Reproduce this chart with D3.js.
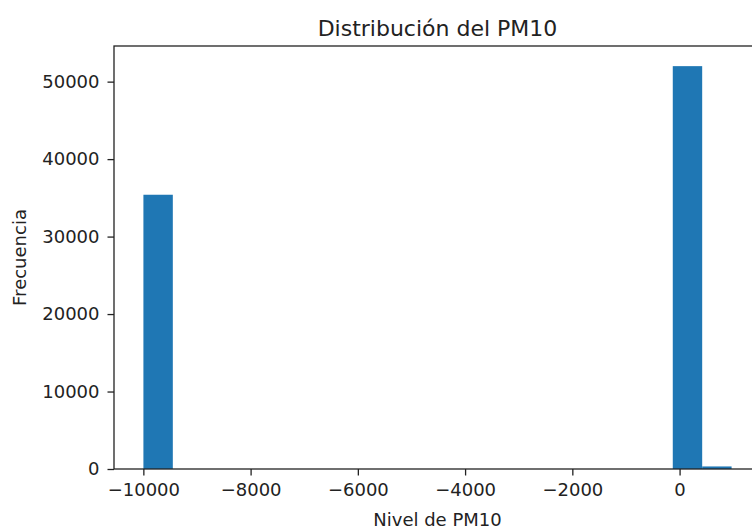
<!DOCTYPE html>
<html>
<head>
<meta charset="utf-8">
<script src="https://cdn.jsdelivr.net/npm/d3@7"></script>
<style>
  html, body { margin: 0; padding: 0; background: #ffffff; }
  svg { display: block; font-family: "DejaVu Sans", sans-serif; }
</style>
</head>
<body>
<svg id="chart" width="752" height="532"></svg>
<script>
// Histogram of PM10 readings (20 equal-width bins between the min and max reading)
const pm10Min = -9999;
const pm10Max = 970;
const binCounts = [35400, 0, 0, 0, 0, 0, 0, 0, 0, 0, 0, 0, 0, 0, 0, 0, 0, 0, 52000, 330];
const xTicks = [-10000, -8000, -6000, -4000, -2000, 0];
const yTicks = [0, 10000, 20000, 30000, 40000, 50000];
const titleText = "Distribución del PM10";
const xLabelText = "Nivel de PM10";
const yLabelText = "Frecuencia";

const nBins = binCounts.length;
const binWidth = (pm10Max - pm10Min) / nBins;
const bins = binCounts.map((c, i) => ({
  x0: pm10Min + i * binWidth,
  x1: pm10Min + (i + 1) * binWidth,
  count: c
}));

const plot = { left: 114, right: 761, top: 46, bottom: 469 };
const pad = 0.05 * (pm10Max - pm10Min);

const x = d3.scaleLinear()
  .domain([pm10Min - pad, pm10Max + pad])
  .range([plot.left, plot.right]);
const y = d3.scaleLinear()
  .domain([0, d3.max(binCounts) * 1.05])
  .range([plot.bottom, plot.top]);

const svg = d3.select("#chart");
svg.append("rect").attr("width", 752).attr("height", 532).attr("fill", "#ffffff");

// bars
svg.append("g")
  .selectAll("rect")
  .data(bins.filter(b => b.count > 0))
  .join("rect")
  .attr("x", d => x(d.x0))
  .attr("width", d => x(d.x1) - x(d.x0))
  .attr("y", d => y(d.count))
  .attr("height", d => y(0) - y(d.count))
  .attr("fill", "#1f77b4");

// axes
const tickFont = "18px";
const xAxis = svg.append("g")
  .attr("transform", `translate(0,${plot.bottom})`)
  .call(d3.axisBottom(x).tickValues(xTicks).tickSize(6.5).tickPadding(8)
    .tickFormat(d => String(d).replace("-", "\u2212")));
const yAxis = svg.append("g")
  .attr("transform", `translate(${plot.left},0)`)
  .call(d3.axisLeft(y).tickValues(yTicks).tickSize(6.5).tickPadding(8)
    .tickFormat(d => String(d)));

[xAxis, yAxis].forEach(g => {
  g.select(".domain").remove();
  g.selectAll(".tick line").attr("stroke", "#222").attr("stroke-width", 1.3);
  g.selectAll(".tick text")
    .attr("fill", "#222")
    .style("font-size", tickFont)
    .style("font-family", "DejaVu Sans, sans-serif");
});

// frame
svg.append("rect")
  .attr("x", plot.left)
  .attr("y", plot.top)
  .attr("width", plot.right - plot.left)
  .attr("height", plot.bottom - plot.top)
  .attr("fill", "none")
  .attr("stroke", "#222")
  .attr("stroke-width", 1.3);

// title and axis labels
svg.append("text")
  .attr("x", (plot.left + plot.right) / 2)
  .attr("y", 36)
  .attr("text-anchor", "middle")
  .attr("fill", "#222")
  .style("font-size", "22px")
  .text(titleText);

svg.append("text")
  .attr("x", (plot.left + plot.right) / 2)
  .attr("y", 526)
  .attr("text-anchor", "middle")
  .attr("fill", "#222")
  .style("font-size", "18px")
  .text(xLabelText);

svg.append("text")
  .attr("transform", `translate(26,${(plot.top + plot.bottom) / 2}) rotate(-90)`)
  .attr("text-anchor", "middle")
  .attr("fill", "#222")
  .style("font-size", "18px")
  .text(yLabelText);
</script>
</body>
</html>
